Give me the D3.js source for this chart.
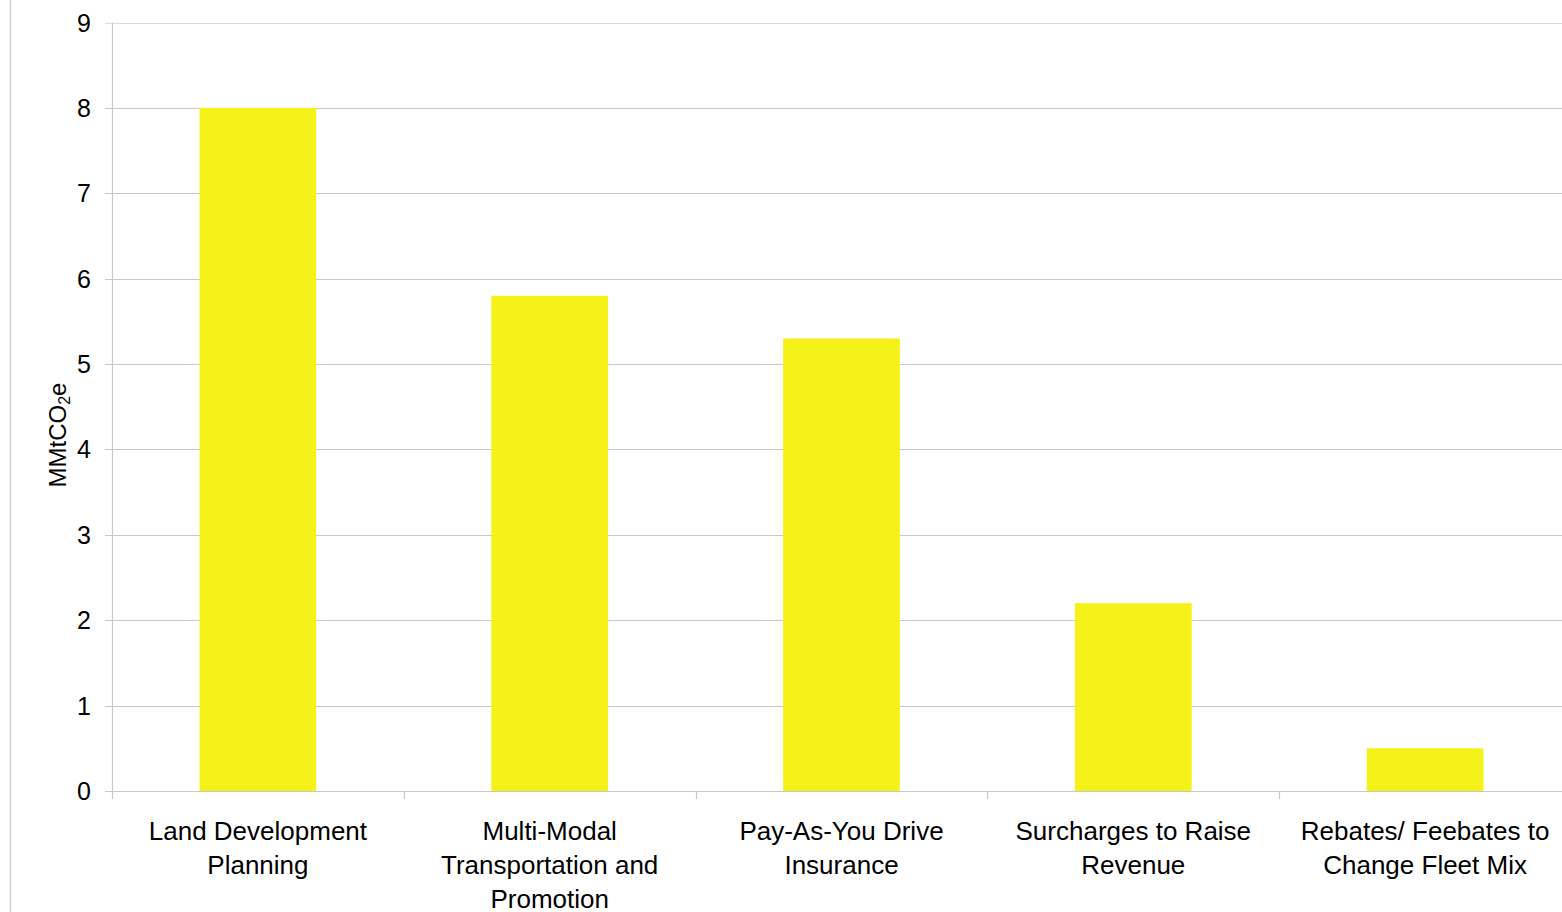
<!DOCTYPE html>
<html><head><meta charset="utf-8">
<script src="https://cdn.jsdelivr.net/npm/d3@7"></script>
<style>html,body{margin:0;padding:0;background:#fff;}svg{display:block;}</style>
</head><body>
<svg id="chart" width="1562" height="912"></svg>
<script>
const categories = [
  "Land Development Planning",
  "Multi-Modal Transportation and Promotion",
  "Pay-As-You Drive Insurance",
  "Surcharges to Raise Revenue",
  "Rebates/ Feebates to Change Fleet Mix"
];
const categoryLines = [
  ["Land Development", "Planning"],
  ["Multi-Modal", "Transportation and", "Promotion"],
  ["Pay-As-You Drive", "Insurance"],
  ["Surcharges to Raise", "Revenue"],
  ["Rebates/ Feebates to", "Change Fleet Mix"]
];
const values = [8, 5.8, 5.3, 2.2, 0.5];
const yTicks = [0, 1, 2, 3, 4, 5, 6, 7, 8, 9];

const svg = d3.select("#chart");
const font = "'Liberation Sans', Arial, sans-serif";
const gridColor = "#c8c8c8";

const x = d3.scaleBand().domain(categories).range([112, 1571]).paddingInner(0.6).paddingOuter(0.3);
const y = d3.scaleLinear().domain([0, 9]).range([791, 22.5]);

// left frame line
svg.append("line").attr("x1", 10.5).attr("x2", 10.5).attr("y1", 0).attr("y2", 912)
  .attr("stroke", "#cfcfcf").attr("stroke-width", 1.5);

// gridlines
svg.append("g").selectAll("line").data(yTicks).join("line")
  .attr("x1", 105).attr("x2", 1562)
  .attr("y1", d => Math.round(y(d)) + 0.5).attr("y2", d => Math.round(y(d)) + 0.5)
  .attr("stroke", d => d === 9 ? "#dcdcdc" : gridColor).attr("stroke-width", 1.2);

// bars
svg.append("g").selectAll("rect").data(values).join("rect")
  .attr("x", (d, i) => x(categories[i]))
  .attr("width", x.bandwidth())
  .attr("y", d => y(d))
  .attr("height", d => y(0) - y(d))
  .attr("fill", "#f5f219");

// y axis line
svg.append("line").attr("x1", 112.5).attr("x2", 112.5).attr("y1", y(9)).attr("y2", 799)
  .attr("stroke", gridColor).attr("stroke-width", 1.2);

// x category boundary ticks
const step = x.step();
const boundaries = categories.slice(1).map(c => x(c) - step * x.paddingInner() / 2 * 2 + (step * x.paddingInner()) / 2);
svg.append("g").selectAll("line").data(categories.slice(1)).join("line")
  .attr("x1", c => Math.round(x(c) - (step - x.bandwidth()) / 2) + 0.5)
  .attr("x2", c => Math.round(x(c) - (step - x.bandwidth()) / 2) + 0.5)
  .attr("y1", y(0)).attr("y2", 799)
  .attr("stroke", gridColor).attr("stroke-width", 1.2);

// y tick labels
svg.append("g").selectAll("text").data(yTicks).join("text")
  .attr("x", 91).attr("y", d => y(d))
  .attr("dy", "0.36em")
  .attr("text-anchor", "end")
  .attr("font-family", font).attr("font-size", 25).attr("fill", "#000")
  .text(d => d);

// category labels
const lab = svg.append("g").selectAll("text").data(categories).join("text")
  .attr("text-anchor", "middle")
  .attr("font-family", font).attr("font-size", 26).attr("fill", "#000");
lab.each(function(c, i) {
  const cx = x(c) + x.bandwidth() / 2;
  d3.select(this).selectAll("tspan").data(categoryLines[i]).join("tspan")
    .attr("x", cx).attr("y", (d, j) => 840 + j * 34).text(d => d);
});

// y axis title
const yt = svg.append("text")
  .attr("transform", "translate(66,435) rotate(-90)")
  .attr("text-anchor", "middle")
  .attr("font-family", font).attr("font-size", 24).attr("fill", "#000");
yt.append("tspan").text("MMtCO");
yt.append("tspan").attr("font-size", 16).attr("dy", 4).text("2");
yt.append("tspan").attr("dy", -4).text("e");
</script>
</body></html>
